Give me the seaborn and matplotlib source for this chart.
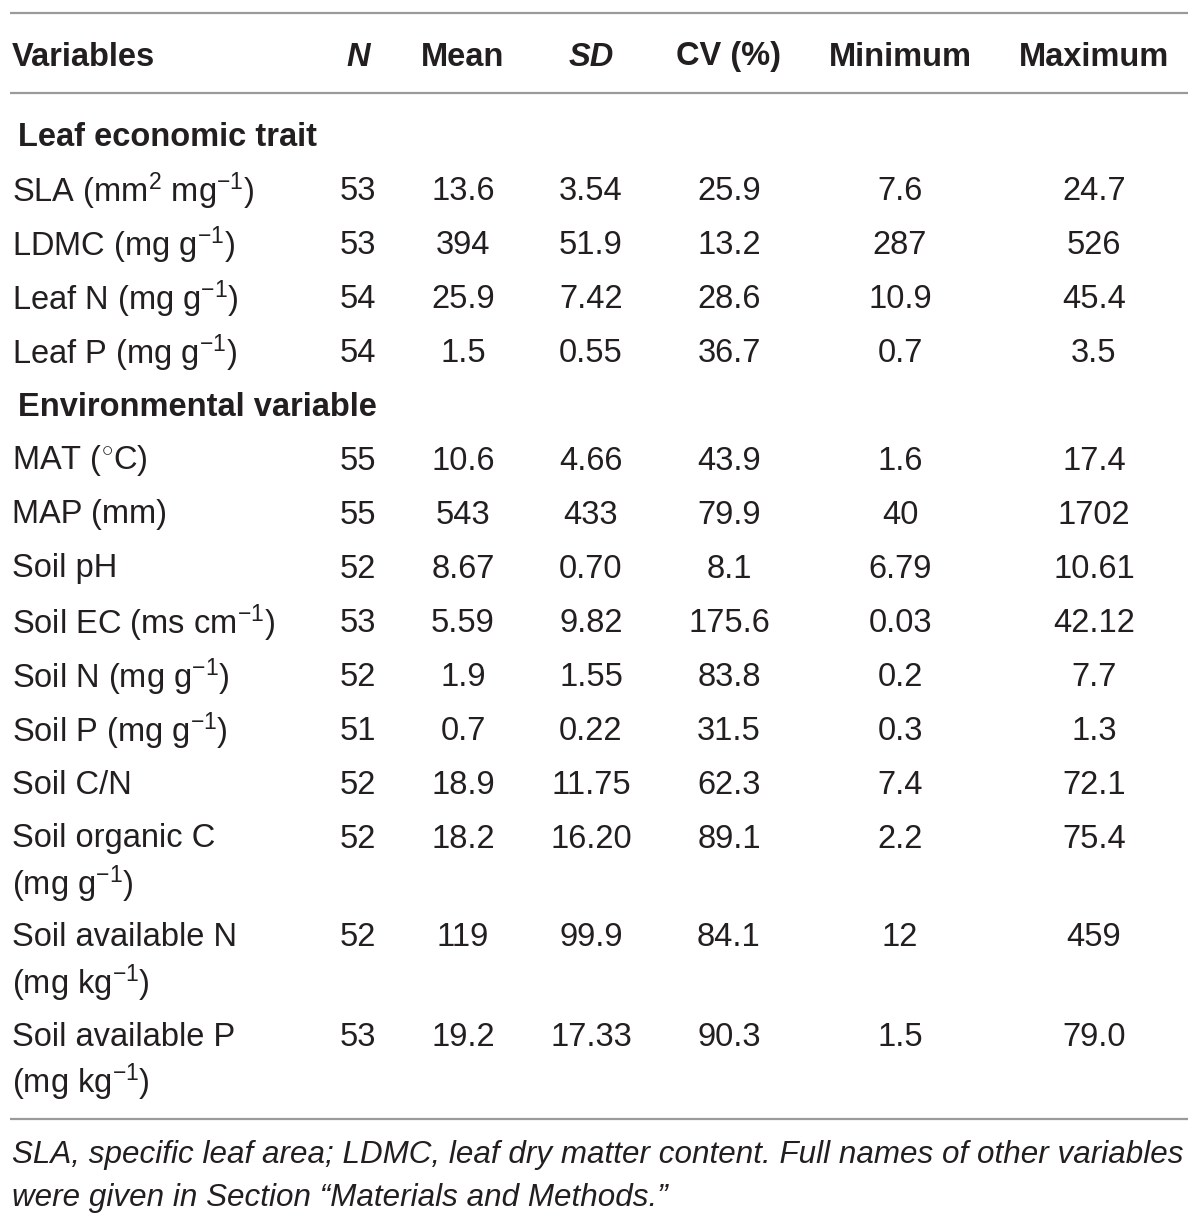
import matplotlib.pyplot as plt
import seaborn as sns

# ---- table content ----
columns = ["Variables", "N", "Mean", "SD", "CV (%)", "Minimum", "Maximum"]
italic_cols = ["N", "SD"]

sections = ["Leaf economic trait", "Environmental variable"]

variables = [
    ["SLA (mm$^{2}$ mg$^{-1}$)"],
    ["LDMC (mg g$^{-1}$)"],
    ["Leaf N (mg g$^{-1}$)"],
    ["Leaf P (mg g$^{-1}$)"],
    ["MAT ($^{\\circ}$C)"],
    ["MAP (mm)"],
    ["Soil pH"],
    ["Soil EC (ms cm$^{-1}$)"],
    ["Soil N (mg g$^{-1}$)"],
    ["Soil P (mg g$^{-1}$)"],
    ["Soil C/N"],
    ["Soil organic C", "(mg g$^{-1}$)"],
    ["Soil available N", "(mg kg$^{-1}$)"],
    ["Soil available P", "(mg kg$^{-1}$)"],
]
section_of = [0, 0, 0, 0, 1, 1, 1, 1, 1, 1, 1, 1, 1, 1]

n_vals = ["53", "53", "54", "54", "55", "55", "52", "53", "52", "51", "52", "52", "52", "53"]
mean_vals = ["13.6", "394", "25.9", "1.5", "10.6", "543", "8.67", "5.59", "1.9", "0.7",
             "18.9", "18.2", "119", "19.2"]
sd_vals = ["3.54", "51.9", "7.42", "0.55", "4.66", "433", "0.70", "9.82", "1.55", "0.22",
           "11.75", "16.20", "99.9", "17.33"]
cv_vals = ["25.9", "13.2", "28.6", "36.7", "43.9", "79.9", "8.1", "175.6", "83.8", "31.5",
           "62.3", "89.1", "84.1", "90.3"]
min_vals = ["7.6", "287", "10.9", "0.7", "1.6", "40", "6.79", "0.03", "0.2", "0.3",
            "7.4", "2.2", "12", "1.5"]
max_vals = ["24.7", "526", "45.4", "3.5", "17.4", "1702", "10.61", "42.12", "7.7", "1.3",
            "72.1", "75.4", "459", "79.0"]

footnote = [
    "SLA, specific leaf area; LDMC, leaf dry matter content. Full names of other variables",
    "were given in Section \u201cMaterials and Methods.\u201d",
]

# ---- style ----
sns.set_theme(style="white")
plt.rcParams["font.family"] = ["Liberation Sans", "DejaVu Sans"]
plt.rcParams["mathtext.fontset"] = "custom"
plt.rcParams["mathtext.rm"] = "Liberation Sans"
plt.rcParams["mathtext.it"] = "Liberation Sans:italic"
plt.rcParams["mathtext.bf"] = "Liberation Sans:bold"

TXT = "#231f20"
RULE = "#9a9a9a"
FS = 23.5
DY = 3  # nudge text down a little so it sits like the reference

fig = plt.figure(figsize=(12, 12.26), dpi=100)
ax = fig.add_axes([0, 0, 1, 1])
ax.set_xlim(0, 1200)
ax.set_ylim(1226, 0)
ax.axis("off")

col_x = [12, 358, 463, 591, 729, 900, 1094]

# rules
for y in [13, 93, 1119]:
    ax.plot([10, 1188], [y, y], color=RULE, lw=1.6, solid_capstyle="butt")

# header
for name, x in zip(columns, col_x):
    ax.text(x, 54 + DY, name, ha="left" if name == "Variables" else "center", va="center",
            fontsize=FS, fontweight="bold", color=TXT,
            style="italic" if name in italic_cols else "normal")

# body
y = 134
cur_section = -1
for i, label in enumerate(variables):
    if section_of[i] != cur_section:
        cur_section = section_of[i]
        ax.text(18, y + DY, sections[cur_section], ha="left", va="center",
                fontsize=FS, fontweight="bold", color=TXT)
        y += 54
    ax.text(col_x[0], y + DY, label[0], ha="left", va="center", fontsize=FS, color=TXT)
    for x, vals in zip(col_x[1:], [n_vals, mean_vals, sd_vals, cv_vals, min_vals, max_vals]):
        ax.text(x, y + DY, vals[i], ha="center", va="center", fontsize=FS, color=TXT)
    if len(label) > 1:
        ax.text(col_x[0], y + 45 + DY, label[1], ha="left", va="center", fontsize=FS, color=TXT)
        y += 45
    y += 54

# footnote
for k, line in enumerate(footnote):
    ax.text(12, 1152 + 43 * k + DY, line, ha="left", va="center", fontsize=FS * 0.96,
            style="italic", color=TXT)

fig.savefig("out.png", dpi=100, facecolor="white")
